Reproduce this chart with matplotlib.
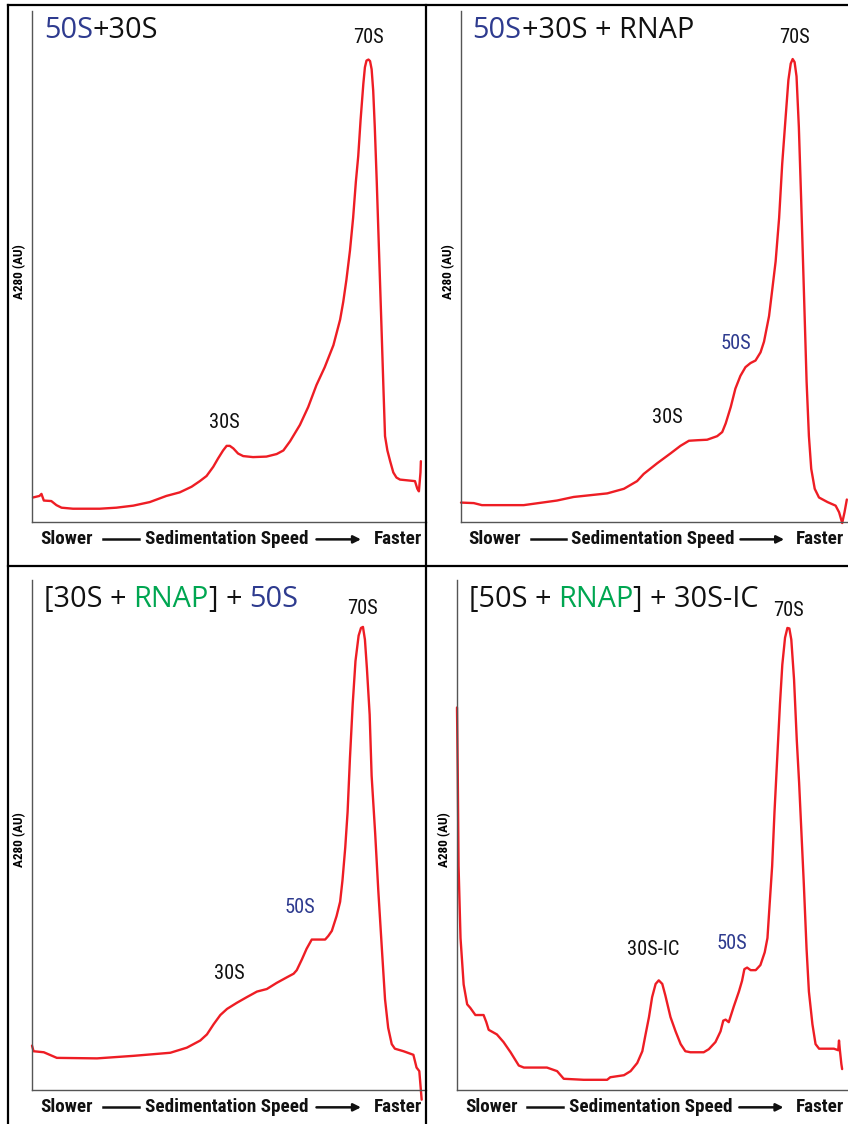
import matplotlib
matplotlib.use("Agg")
import matplotlib.pyplot as plt
from matplotlib.lines import Line2D
from matplotlib import font_manager as fm

# --- data (x: % of gradient, y: A280 in % of full scale) ---
x_50s_30s = [0.25, 1.9, 2.4, 3.0, 4.9, 6.2, 7.5, 10.4, 17.2, 21.4, 25.7, 29.9, 34.1, 37.5, 40.5, 42.6,
             44.3, 46.0, 47.2, 48.5, 49.4, 50.2, 51.1, 52.3, 53.6, 56.1, 59.5, 62.1, 63.8, 65.5, 68.0,
             70.1, 72.2, 74.3, 76.5, 78.2, 79.0, 79.8, 80.7, 81.5, 82.2, 82.8, 83.4, 84.1, 84.5, 84.9,
             85.4, 85.8, 86.2, 86.6, 87.0, 87.5, 88.1, 88.7, 89.2, 89.6, 90.2, 90.9, 91.7, 92.5, 93.4,
             97.2, 97.8, 98.2, 98.6, 98.7]
y_50s_30s = [4.8, 5.1, 5.5, 4.2, 4.1, 3.3, 2.8, 2.6, 2.6, 2.8, 3.2, 3.9, 5.1, 5.8, 6.9, 8.0,
             9.0, 10.8, 12.4, 14.0, 14.9, 14.9, 14.4, 13.4, 12.9, 12.7, 12.8, 13.3, 14.0, 15.8, 19.0,
             22.5, 26.8, 30.3, 34.6, 39.6, 43.1, 47.4, 53.1, 59.5, 66.6, 71.6, 78.7, 85.8, 89.0, 90.3,
             90.5, 90.2, 88.6, 84.4, 77.3, 66.6, 52.4, 38.2, 26.1, 16.8, 14.0, 11.9, 9.7, 8.7, 8.3,
             8.0, 6.5, 6.0, 9.7, 11.9]

x_rnap = [0.0, 3.3, 5.4, 16.2, 24.8, 29.1, 37.8, 42.1, 45.5, 47.2, 50.7, 54.1, 56.7, 58.9, 61.0, 63.6,
          66.2, 67.5, 68.4, 69.7, 70.9, 72.2, 73.5, 74.8, 76.1, 77.4, 78.3, 79.6, 80.4, 81.3, 82.2,
          83.0, 83.9, 84.6, 85.2, 85.7, 86.2, 86.7, 87.3, 87.9, 88.6, 89.3, 89.9, 90.5, 91.4, 92.5,
          94.7, 96.8, 97.7, 98.5, 99.1, 99.7]
y_rnap = [3.8, 3.7, 3.3, 3.3, 4.2, 4.9, 5.6, 6.5, 8.0, 9.4, 11.5, 13.4, 14.9, 15.9, 16.0, 16.1,
          16.8, 17.6, 19.3, 22.5, 26.1, 28.6, 30.3, 31.1, 31.6, 33.2, 35.3, 40.3, 45.3, 51.0, 59.5,
          70.1, 79.4, 86.5, 89.7, 90.6, 90.0, 87.2, 77.3, 63.0, 45.3, 27.5, 16.8, 10.4, 6.5, 4.8,
          3.9, 3.2, 1.9, -0.2, 1.9, 4.4]

x_30s_rnap = [0.0, 0.4, 3.0, 6.3, 16.5, 25.8, 35.1, 39.3, 42.7, 44.4, 46.1, 47.8, 49.5, 52.0, 54.5,
              57.1, 59.6, 62.1, 64.7, 66.4, 67.2, 68.5, 69.7, 71.0, 74.4, 75.2, 76.1, 77.3, 78.2,
              78.8, 79.5, 80.1, 80.7, 81.4, 82.1, 82.9, 83.5, 84.0, 84.5, 85.0, 85.7, 86.2, 87.1,
              87.9, 88.8, 89.6, 90.4, 91.3, 92.1, 94.3, 96.8, 97.6, 98.3, 98.6, 98.9]
y_30s_rnap = [8.7, 7.6, 7.4, 6.3, 6.2, 6.7, 7.3, 8.3, 9.7, 10.9, 12.9, 14.7, 15.9, 17.1, 18.2,
              19.3, 19.8, 21.0, 22.1, 22.8, 23.5, 25.6, 27.7, 29.5, 29.5, 30.2, 31.2, 34.1, 36.9,
              41.1, 47.5, 54.5, 65.1, 75.7, 84.1, 89.1, 90.6, 90.8, 88.3, 82.7, 73.6, 61.6, 50.3,
              39.0, 27.7, 17.8, 12.2, 9.0, 8.1, 7.6, 6.9, 4.4, 3.7, 0.9, -1.9]

x_50s_rnap = [0.0, 0.2, 0.4, 0.9, 1.7, 2.6, 3.4, 4.7, 6.8, 7.5, 8.1, 10.2, 11.9, 13.7, 15.8, 17.1,
              23.0, 25.6, 27.3, 32.4, 38.4, 39.2, 42.7, 44.4, 46.1, 47.4, 48.2, 49.1, 49.9, 50.8,
              51.6, 52.5, 53.3, 54.6, 55.9, 57.2, 58.4, 59.7, 63.1, 64.4, 66.1, 67.4, 68.1, 68.7,
              69.5, 70.8, 72.1, 72.9, 73.5, 74.2, 75.1, 76.4, 77.6, 78.7, 79.4, 80.0, 80.6, 81.2,
              81.9, 82.6, 83.2, 83.9, 84.5, 85.0, 85.5, 86.2, 86.9, 87.5, 88.1, 88.7, 89.4, 90.0,
              90.9, 91.7, 92.6, 96.4, 97.5, 97.7, 97.9, 98.3, 98.5]
y_50s_rnap = [75.0, 61.6, 43.9, 29.8, 20.7, 16.8, 16.1, 14.7, 14.7, 13.3, 11.8, 10.9, 9.4, 7.4, 4.8, 4.4,
              4.4, 3.7, 2.2, 2.0, 2.0, 2.5, 2.9, 3.7, 5.3, 7.6, 10.8, 14.3, 18.2, 20.8,
              21.5, 20.8, 18.5, 14.3, 11.5, 9.0, 7.6, 7.4, 7.4, 8.0, 9.4, 11.5, 13.6, 13.8,
              13.3, 16.4, 19.3, 21.4, 23.7, 24.0, 23.5, 23.5, 24.5, 27.0, 29.8, 36.9, 43.9, 54.5,
              65.1, 75.7, 83.4, 88.7, 90.6, 90.5, 88.3, 80.5, 68.6, 60.2, 50.3, 40.4, 27.7, 19.3,
              12.9, 9.0, 8.1, 8.1, 7.8, 9.7, 8.0, 5.1, 4.1]

# titles: list of (text piece, colour) drawn one after the other
titoli = [
    [("50S", "blue"), ("+30S", "black")],
    [("50S", "blue"), ("+30S + RNAP", "black")],
    [("[30S +", "black"), ("RNAP", "green"), ("] +", "black"), ("50S", "blue")],
    [("[50S +", "black"), ("RNAP", "green"), ("] + 30S-IC", "black")],
]

# peak labels: (text, x, y, colour)
etichette = [
    [("70S", 85.5, 94.8, "black"), ("30S", 48.9, 19.5, "black")],
    [("70S", 86.3, 94.8, "black"), ("50S", 71.1, 35.0, "blue"), ("30S", 53.3, 20.4, "black")],
    [("70S", 83.9, 94.5, "black"), ("50S", 68.0, 35.8, "blue"), ("30S", 50.1, 22.8, "black")],
    [("70S", 84.9, 94.0, "black"), ("50S", 70.4, 28.8, "blue"), ("30S-IC", 50.2, 27.5, "black")],
]

serie = [(x_50s_30s, y_50s_30s), (x_rnap, y_rnap), (x_30s_rnap, y_30s_rnap), (x_50s_rnap, y_50s_rnap)]

colori = {"black": "#111111", "blue": "#2e3b8f", "green": "#00a651"}
rosso = "#ee1d24"
font_titolo = "Open Sans"


def peso_num(w):
    if isinstance(w, (int, float)):
        return w
    return {"bold": 700, "semibold": 600, "demibold": 600, "normal": 400, "regular": 400,
            "medium": 500, "book": 400}.get(str(w).lower(), 400)


def trova_stretto(grassetto):
    # cerco un font "narrow/condensed" tra quelli installati
    preferiti = ["Liberation Sans Narrow", "Roboto Condensed", "Noto Sans", "Open Sans",
                 "DejaVu Sans", "Lato", "Inter"]
    cand = [f for f in fm.fontManager.ttflist
            if f.stretch in ("condensed", "semi-condensed", "extra-condensed")
            and f.style == "normal"]
    for nome in preferiti:
        for f in cand:
            w = peso_num(f.weight)
            if f.name == nome and ((grassetto and w >= 600) or (not grassetto and 350 <= w <= 500)):
                return f.fname
    for f in cand:
        w = peso_num(f.weight)
        if (grassetto and w >= 600) or (not grassetto and 350 <= w <= 500):
            return f.fname
    return None


file_bold = trova_stretto(True)
file_reg = trova_stretto(False)


def fp_stretto(grassetto, size):
    f = file_bold if grassetto else file_reg
    if f is None:
        return fm.FontProperties(family="DejaVu Sans", weight="bold" if grassetto else "normal",
                                 size=size * 0.8)
    return fm.FontProperties(fname=f, size=size)


W, H = 848, 1124
fig = plt.figure(figsize=(W / 100, H / 100), dpi=100)

# axes boxes in pixels: left, top, right, bottom
box_assi = [(32, 11, 426, 522), (461, 11, 848, 522), (32, 580, 426, 1090), (457, 580, 848, 1090)]


def disegna_titolo(ax, pezzi):
    prec = None
    for testo, col in pezzi:
        if prec is None:
            prec = ax.text(0.03, 0.934, testo, transform=ax.transAxes, fontsize=20.8,
                           family=font_titolo, color=colori[col], va="bottom", ha="left")
        else:
            gap = 0.0
            if testo[0] not in "+]" and prec.get_text().endswith("+"):
                gap = 5.0
            prec = ax.annotate(testo, xy=(1, 0), xycoords=prec, xytext=(gap, 0),
                               textcoords="offset points", fontsize=20.8, family=font_titolo,
                               color=colori[col], va="bottom", ha="left")


def disegna_asse_x(ax):
    yy = -0.034
    kw = dict(transform=ax.transAxes, fontproperties=fp_stretto(True, 13.8),
              va="center", color="#111111")
    ax.text(0.02, yy, "Slower", ha="left", **kw)
    ax.text(0.495, yy, "Sedimentation Speed", ha="center", **kw)
    ax.text(0.99, yy, "Faster", ha="right", **kw)
    ax.add_line(Line2D([0.18, 0.272], [yy, yy], transform=ax.transAxes, color="#111111",
                       lw=1.8, clip_on=False))
    ax.annotate("", xy=(0.835, yy), xytext=(0.722, yy), xycoords="axes fraction",
                arrowprops=dict(arrowstyle="-|>", lw=1.8, color="#111111", mutation_scale=11,
                                shrinkA=0, shrinkB=0),
                annotation_clip=False)


for i in range(4):
    l, t, r, b = box_assi[i]
    ax = fig.add_axes([l / W, (H - b) / H, (r - l) / W, (b - t) / H])
    xs, ys = serie[i]
    ax.plot(xs, ys, color=rosso, lw=1.7, solid_joinstyle="round", solid_capstyle="round",
            clip_on=False)
    ax.set_xlim(0, 100)
    ax.set_ylim(0, 100)
    for lato in ["top", "right"]:
        ax.spines[lato].set_visible(False)
    for lato in ["left", "bottom"]:
        ax.spines[lato].set_color("#555555")
        ax.spines[lato].set_linewidth(1.0)
    ax.set_xticks([])
    ax.set_yticks([])
    ax.patch.set_alpha(0)
    ax.text(-12 / (r - l), 0.49, "A280 (AU)", transform=ax.transAxes, rotation=90,
            fontproperties=fp_stretto(True, 9.5), ha="center", va="center")
    for testo, px, py, col in etichette[i]:
        ax.text(px, py, testo, fontproperties=fp_stretto(False, 14.8), color=colori[col],
                ha="center", va="center")
    disegna_titolo(ax, titoli[i])
    disegna_asse_x(ax)

# panel frame lines (in pixels)
bordi = [((8, 8), (5, H)), ((426, 426), (5, H)), ((8, W), (5, 5)), ((8, W), (566, 566))]
for xx, yy in bordi:
    fig.add_artist(Line2D([v / W for v in xx], [1 - v / H for v in yy], color="black", lw=1.6))

plt.savefig("out.png", dpi=100)
print("done")
